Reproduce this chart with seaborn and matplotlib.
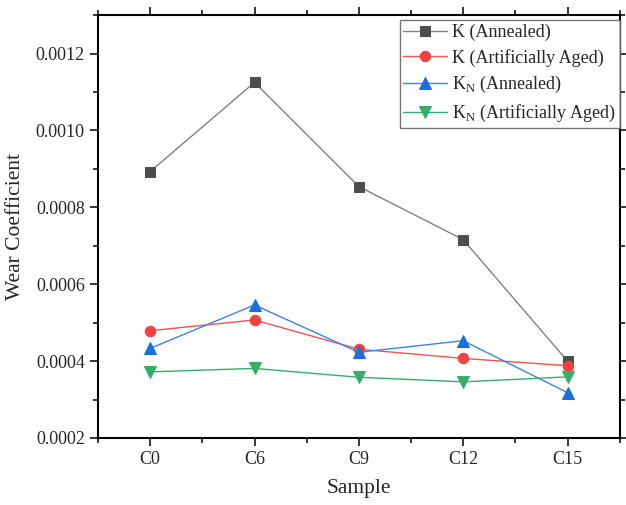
import matplotlib
matplotlib.use("Agg")
import matplotlib.pyplot as plt
import seaborn as sns
import pandas as pd
from matplotlib.ticker import MultipleLocator

sns.set_style("ticks")
plt.rcParams['font.family'] = ['Liberation Serif', 'DejaVu Serif']
plt.rcParams['mathtext.fontset'] = 'custom'
plt.rcParams['mathtext.rm'] = 'Liberation Serif'

samples = ["C0", "C6", "C9", "C12", "C15"]
k_annealed = [0.000893, 0.001125, 0.000854, 0.000716, 0.000400]
k_aged = [0.000479, 0.000507, 0.000431, 0.000407, 0.000388]
kn_annealed = [0.000433, 0.000546, 0.000423, 0.000453, 0.000318]
kn_aged = [0.000372, 0.000381, 0.000358, 0.000346, 0.000359]

labels = ["K (Annealed)", "K (Artificially Aged)",
          r"K$_\mathrm{N}$ (Annealed)", r"K$_\mathrm{N}$ (Artificially Aged)"]
series = [k_annealed, k_aged, kn_annealed, kn_aged]
line_colors = ["#808080", "#f45050", "#3c82ea", "#37ad6b"]
marker_colors = ["#4d4d4d", "#f14040", "#1a6fdf", "#37ad6b"]
markers = ["s", "o", "^", "v"]
msizes = [7, 7.5, 8, 8]

fig = plt.figure(figsize=(6.26, 5.05), dpi=100)
ax = fig.add_axes([0.1565, 0.1327, 0.8335, 0.8373])

for vals, lab, lc, mc, mk, ms in zip(series, labels, line_colors, marker_colors, markers, msizes):
    df = pd.DataFrame({"x": range(len(samples)), "y": vals})
    sns.lineplot(data=df, x="x", y="y", ax=ax, color=lc, lw=1.0,
                 marker=mk, markersize=ms, markerfacecolor=mc,
                 markeredgecolor=mc, label=lab)

ax.set_xlim(-0.5, 4.5)
ax.set_ylim(0.0002, 0.0013)
ax.set_xticks(range(len(samples)))
ax.set_xticklabels(samples)
ax.xaxis.set_minor_locator(MultipleLocator(0.5))
ax.yaxis.set_minor_locator(MultipleLocator(0.0001))
ax.set_yticks([0.0002, 0.0004, 0.0006, 0.0008, 0.0010, 0.0012])
ax.set_yticklabels(["0.0002", "0.0004", "0.0006", "0.0008", "0.0010", "0.0012"])

ax.tick_params(axis='both', which='both', direction='out', top=True, right=True,
               labeltop=False, labelright=False, labelsize=13, width=1.3)
ax.tick_params(axis='both', which='major', length=6)
ax.tick_params(axis='both', which='minor', length=3.5)
for s in ax.spines.values():
    s.set_linewidth(1.5)
    s.set_color("black")

ax.set_xlabel("Sample", fontsize=15.5, labelpad=8)
ax.set_ylabel("Wear Coefficient", fontsize=15.5, labelpad=8)

leg = ax.legend(loc="upper right", fontsize=13, frameon=True, fancybox=False,
                edgecolor="#555555", handlelength=2.4, borderpad=0.2,
                labelspacing=0.42, handletextpad=0.3, borderaxespad=0.0,
                bbox_to_anchor=(1.0, 0.988))
leg.get_frame().set_linewidth(1.0)

fig.savefig("out.png", dpi=100)
